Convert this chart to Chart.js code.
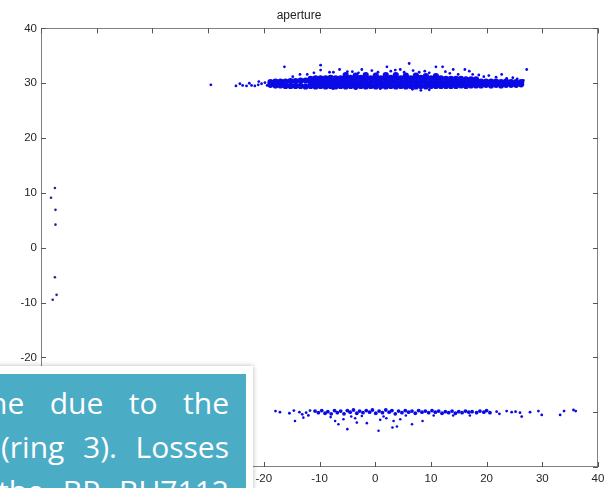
<!DOCTYPE html>
<html>
<head>
<meta charset="utf-8">
<script src="https://cdn.jsdelivr.net/npm/chart.js@4.4.1/dist/chart.umd.min.js"></script>
<style>
  html,body{margin:0;padding:0;background:#fff;overflow:hidden;}
  #wrap{position:relative;width:613px;height:488px;overflow:hidden;}
  #c{position:absolute;left:0;top:0;}
  #frame{position:absolute;left:-10px;top:366px;width:263px;height:140px;background:#fff;box-shadow:0 0 5px rgba(0,0,0,0.28);}
  #box{position:absolute;left:-10px;top:374px;width:256px;height:130px;background:#4bacc6;overflow:hidden;}
  .ln{position:absolute;font-family:"Open Sans",Lato,sans-serif;font-size:30px;line-height:30px;color:#fff;white-space:nowrap;text-align:justify;text-align-last:justify;}
</style>
</head>
<body>
<div id="wrap">
  <canvas id="c" width="613" height="488"></canvas>
  <div id="frame"></div>
  <div id="box">
    <div class="ln" id="l1" style="left:-1px;top:14px;width:240px;">ne due to the</div>
    <div class="ln" id="l2" style="left:11px;top:58px;width:228px;">(ring 3). Losses</div>
    <div class="ln" id="l3" style="left:8px;top:102px;width:231px;">the BP BU7112</div>
  </div>
</div>
<script>
// ---- data ----
const chartTitle = "aperture";
const xTickValues = [-60,-50,-40,-30,-20,-10,0,10,20,30,40];
const yTickValues = [-40,-30,-20,-10,0,10,20,30,40];

const leftPoints = [[-57.5,10.9],[-58.2,9.1],[-57.4,6.9],[-57.4,4.2],[-57.5,-5.4],[-57.2,-8.6],[-57.9,-9.5]];

const upperCore = [
 [-18.8,29.7],[-18.8,30.2],[-17.9,29.6],[-17.9,30.3],[-17.0,29.6],[-17.0,30.3],[-16.1,29.5],[-16.1,30.3],
 [-15.2,29.5],[-15.2,30.4],[-14.3,29.5],[-14.3,30.4],[-13.4,29.5],[-13.4,30.5],[-12.5,29.4],[-12.5,30.5],
 [-11.6,29.5],[-11.6,30.2],[-11.6,30.8],[-10.7,29.4],[-10.7,30.2],[-10.7,30.9],
 [-9.8,29.5],[-9.8,30.2],[-9.8,30.9],[-8.9,29.4],[-8.9,30.1],[-8.9,30.9],
 [-8.0,29.5],[-8.0,30.2],[-8.0,31.0],[-7.1,29.4],[-7.1,30.2],[-7.1,30.9],
 [-6.2,29.5],[-6.2,30.1],[-6.2,30.9],[-5.3,29.4],[-5.3,30.2],[-5.3,30.9],[-5.3,31.5],
 [-4.4,29.5],[-4.4,30.2],[-4.4,31.0],[-3.5,29.4],[-3.5,30.1],[-3.5,30.9],[-3.5,31.4],
 [-2.6,29.5],[-2.6,30.2],[-2.6,31.0],[-1.7,29.4],[-1.7,30.2],[-1.7,30.9],[-1.7,31.5],
 [-0.8,29.5],[-0.8,30.1],[-0.8,30.9],[0.1,29.4],[0.1,30.2],[0.1,31.0],[0.1,31.4],
 [1.0,29.5],[1.0,30.2],[1.0,30.9],[1.9,29.4],[1.9,30.1],[1.9,30.9],[1.9,31.5],
 [2.8,29.5],[2.8,30.2],[2.8,31.0],[3.7,29.4],[3.7,30.2],[3.7,30.9],[3.7,31.5],
 [4.6,29.5],[4.6,30.1],[4.6,30.9],[5.5,29.4],[5.5,30.2],[5.5,31.0],[5.5,31.4],
 [6.4,29.5],[6.4,30.2],[6.4,30.9],[7.3,29.4],[7.3,30.1],[7.3,30.9],[7.3,31.4],
 [8.2,29.5],[8.2,30.2],[8.2,31.0],[9.1,29.4],[9.1,30.2],[9.1,30.9],[9.1,31.3],
 [10.0,29.5],[10.0,30.1],[10.0,30.9],[10.9,29.5],[10.9,30.2],[10.9,30.9],[10.9,31.3],
 [11.8,29.5],[11.8,30.2],[11.8,30.9],[12.7,29.5],[12.7,30.1],[12.7,30.8],
 [13.6,29.5],[13.6,30.2],[13.6,30.8],[14.5,29.5],[14.5,30.1],[14.5,30.8],
 [15.4,29.6],[15.4,30.2],[15.4,30.8],[16.3,29.5],[16.3,30.1],[16.3,30.7],
 [17.2,29.6],[17.2,30.2],[17.2,30.7],[18.1,29.6],[18.1,30.2],[18.1,30.7],
 [19.0,29.6],[19.0,30.3],[19.9,29.7],[19.9,30.3],[20.8,29.6],[20.8,30.3],[21.7,29.7],[21.7,30.3],
 [22.6,29.6],[22.6,30.2],[23.5,29.7],[23.5,30.3],[24.4,29.7],[24.4,30.2],[25.3,29.7],[25.3,30.2],[26.2,29.8],[26.2,30.2]
];

const upperScatter = [
 [-29.5,29.7],[-25.0,29.5],[-24.3,29.9],[-23.8,29.6],[-23.1,29.5],[-22.2,29.6],[-21.6,29.5],[-21.0,29.7],
 [-20.4,29.9],[-19.8,30.1],[-19.4,29.6],[-20.9,30.3],[-22.6,30.0],
 [-16.3,33.0],[-14.8,31.2],[-13.5,31.6],[-12.2,31.6],[-11.0,31.9],[-9.8,33.3],[-9.8,32.4],[-8.2,32.0],
 [-7.5,32.0],[-6.4,32.5],[-5.0,32.1],[-4.1,32.1],[-3.0,31.9],[-2.4,32.5],[-0.6,32.3],[0.5,32.0],
 [2.1,33.0],[2.8,32.2],[3.6,32.4],[4.5,32.5],[5.2,32.0],[6.1,33.6],[6.8,32.3],[7.9,32.0],[8.9,32.2],
 [9.7,31.9],[10.9,33.0],[12.1,33.0],[12.6,32.1],[13.4,31.8],[14.0,32.5],[14.9,31.6],[16.1,32.5],
 [16.9,32.2],[17.5,31.6],[18.6,31.5],[19.5,31.2],[20.4,31.4],[21.7,31.1],[22.7,31.6],[23.6,30.9],
 [24.7,31.0],[25.5,30.8],[26.6,30.5],[27.2,32.5],
 [-7.6,29.0],[-3.5,29.0],[0.9,29.0],[6.7,28.9],[8.2,28.7],[9.7,28.8]
];

const lowerTail = [
 [-17.9,-29.8],[-17.1,-30.0],[-15.4,-30.2],[-14.6,-29.7],[-13.6,-30.0],[-13.1,-30.4],[-12.4,-30.1],[-12.0,-30.6],[-11.7,-29.7],
 [21.8,-29.9],[22.3,-30.3],[23.6,-29.8],[24.5,-30.0],[25.2,-29.9],[26.0,-30.1],[26.3,-30.8],[27.8,-30.0],
 [29.3,-29.8],[29.9,-30.5],[33.2,-30.5],[33.9,-29.8],[35.6,-29.6],[36.0,-29.8]
];

const lowerRow = [
 [-10.8,-29.8],[-10.2,-30.1],[-9.6,-29.7],[-9.0,-30.2],[-8.5,-29.9],[-7.9,-30.3],[-7.3,-29.7],[-6.8,-30.1],
 [-6.2,-29.8],[-5.6,-30.3],[-5.0,-29.7],[-4.5,-30.0],[-3.9,-29.6],[-3.3,-30.2],[-2.8,-29.8],[-2.2,-30.1],
 [-1.6,-29.7],[-1.0,-30.0],[-0.5,-29.6],[0.1,-30.2],[0.7,-29.8],[1.3,-30.1],[1.9,-29.6],[2.5,-30.0],
 [3.0,-29.7],[3.6,-30.3],[4.2,-29.8],[4.8,-30.1],[5.4,-29.7],[6.0,-30.0],[6.6,-29.8],[7.2,-30.2],
 [7.8,-29.7],[8.4,-30.0],[9.0,-29.8],[9.6,-30.1],[10.2,-29.7],[10.8,-30.0],[11.4,-29.8],[12.0,-30.2],
 [12.6,-29.9],[13.2,-30.1],[13.8,-29.8],[14.4,-30.2],[15.0,-29.9],[15.6,-30.1],[16.2,-29.8],[16.8,-30.0],
 [17.4,-29.9],[18.2,-30.1],[18.8,-29.8],[19.5,-30.0],[20.0,-29.7],[20.6,-30.1]
];

const lowerScatter = [
 [-14.4,-31.6],[-12.9,-31.0],[-8.0,-30.9],[-7.2,-31.6],[-6.6,-32.2],[-5.7,-31.3],[-5.0,-33.1],[-4.3,-30.8],
 [-3.6,-31.1],[-3.3,-31.9],[-2.4,-30.7],[-1.5,-32.0],[0.6,-33.4],[0.9,-31.4],[1.5,-30.8],[2.0,-31.1],
 [3.1,-32.8],[3.3,-31.6],[3.9,-32.6],[4.5,-31.3],[5.5,-30.6],[6.6,-32.2],[8.5,-31.6],[10.5,-30.6],
 [14.0,-30.6],[17.0,-30.6]
];

// ---- chart ----
const toXY = a => a.map(p => ({x:p[0], y:p[1]}));
const dotColor = '#0a0ae6';

const frameTicks = {
  id:'frameTicks',
  afterDraw(chart){
    const {ctx, chartArea:a, scales:{x,y}} = chart;
    ctx.save();
    ctx.strokeStyle = '#808080';
    ctx.lineWidth = 1;
    ctx.strokeRect(Math.round(a.left)+0.5, Math.round(a.top)+0.5, Math.round(a.right-a.left)-1, Math.round(a.bottom-a.top)-1);
    ctx.strokeStyle = '#555';
    ctx.beginPath();
    x.ticks.forEach(t=>{
      const px = Math.round(x.getPixelForValue(t.value))+0.5;
      ctx.moveTo(px, a.bottom); ctx.lineTo(px, a.bottom-5);
      ctx.moveTo(px, a.top); ctx.lineTo(px, a.top+5);
    });
    y.ticks.forEach(t=>{
      const py = Math.round(y.getPixelForValue(t.value))+0.5;
      ctx.moveTo(a.left, py); ctx.lineTo(a.left+5, py);
      ctx.moveTo(a.right, py); ctx.lineTo(a.right-5, py);
    });
    ctx.stroke();
    ctx.restore();
  }
};

new Chart(document.getElementById('c'), {
  type:'scatter',
  data:{
    datasets:[
      {label:'core', data:toXY(upperCore), backgroundColor:dotColor, borderWidth:0, pointRadius:3.1},
      {label:'upper', data:toXY(upperScatter), backgroundColor:dotColor, borderWidth:0, pointRadius:1.4},
      {label:'lowerRow', data:toXY(lowerRow), backgroundColor:dotColor, borderWidth:0, pointRadius:1.9},
      {label:'lowerTail', data:toXY(lowerTail), backgroundColor:dotColor, borderWidth:0, pointRadius:1.4},
      {label:'lowerScatter', data:toXY(lowerScatter), backgroundColor:dotColor, borderWidth:0, pointRadius:1.3},
      {label:'left', data:toXY(leftPoints), backgroundColor:'#22228a', borderWidth:0, pointRadius:1.3}
    ]
  },
  options:{
    responsive:false,
    animation:false,
    events:[],
    layout:{padding:{left:0,right:15,top:0,bottom:0}},
    plugins:{
      legend:{display:false},
      tooltip:{enabled:false},
      title:{display:true, text:chartTitle, color:'#222', font:{family:'"Liberation Sans", Arial, sans-serif', size:12, weight:'normal'}, padding:{top:8, bottom:6}}
    },
    scales:{
      x:{
        type:'linear', min:-60, max:40,
        afterBuildTicks: s => { s.ticks = xTickValues.map(v=>({value:v})); },
        afterFit: s => { s.height = 21; },
        grid:{display:false, drawTicks:false},
        border:{display:false},
        ticks:{color:'#262626', padding:5, maxRotation:0, autoSkip:false, font:{family:'"Liberation Sans", Arial, sans-serif', size:11.5}}
      },
      y:{
        type:'linear', min:-40, max:40,
        afterBuildTicks: s => { s.ticks = yTickValues.map(v=>({value:v})); },
        afterFit: s => { s.width = 41; },
        grid:{display:false, drawTicks:false},
        border:{display:false},
        ticks:{color:'#262626', padding:4, autoSkip:false, font:{family:'"Liberation Sans", Arial, sans-serif', size:11.5}}
      }
    }
  },
  plugins:[frameTicks]
});
</script>
</body>
</html>
